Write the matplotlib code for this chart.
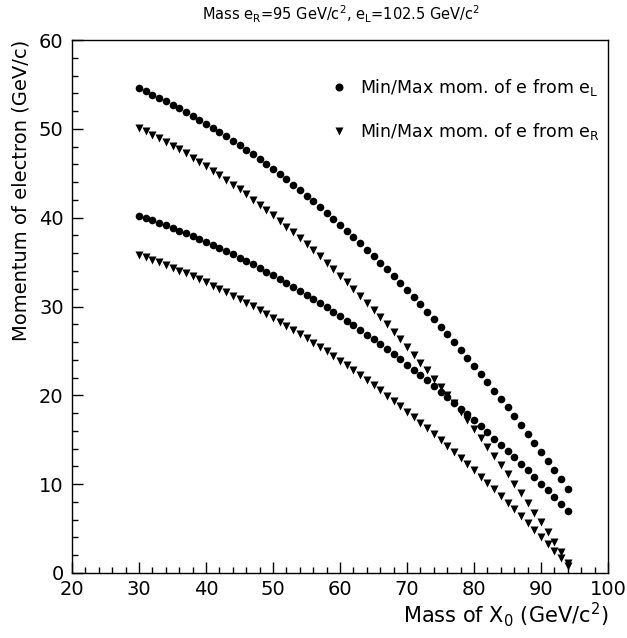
import matplotlib
matplotlib.use("Agg")
import matplotlib.pyplot as plt
from matplotlib.ticker import MultipleLocator

plt.rcParams['font.family'] = ['DejaVu Sans']
plt.rcParams['mathtext.default'] = 'regular'

# Mass of X0 (GeV/c^2)
mass_x0 = list(range(30, 95))

# Min/Max momentum of e from e_L (circles)
eL_max = [54.56, 54.21, 53.85, 53.49, 53.10, 52.71, 52.31, 51.90, 51.47, 51.03,
          50.58, 50.12, 49.65, 49.17, 48.67, 48.17, 47.65, 47.12, 46.58, 46.03,
          45.47, 44.90, 44.31, 43.72, 43.11, 42.49, 41.86, 41.22, 40.56, 39.90,
          39.22, 38.54, 37.84, 37.13, 36.41, 35.67, 34.93, 34.18, 33.41, 32.63,
          31.84, 31.04, 30.23, 29.40, 28.57, 27.72, 26.87, 26.00, 25.12, 24.22,
          23.32, 22.41, 21.48, 20.54, 19.60, 18.64, 17.66, 16.68, 15.69, 14.68,
          13.67, 12.64, 11.60, 10.55, 9.49]
eL_min = [40.21, 39.95, 39.69, 39.41, 39.13, 38.85, 38.55, 38.24, 37.93, 37.61,
          37.28, 36.94, 36.59, 36.23, 35.87, 35.50, 35.12, 34.73, 34.33, 33.92,
          33.51, 33.09, 32.66, 32.22, 31.77, 31.31, 30.85, 30.37, 29.89, 29.40,
          28.91, 28.40, 27.88, 27.36, 26.83, 26.29, 25.74, 25.19, 24.62, 24.05,
          23.46, 22.87, 22.28, 21.67, 21.05, 20.43, 19.80, 19.16, 18.51, 17.85,
          17.19, 16.51, 15.83, 15.14, 14.44, 13.73, 13.02, 12.29, 11.56, 10.82,
          10.07, 9.31, 8.55, 7.77, 6.99]

# Min/Max momentum of e from e_R (triangles)
eR_max = [50.12, 49.74, 49.35, 48.95, 48.54, 48.11, 47.68, 47.23, 46.76, 46.29,
          45.80, 45.30, 44.79, 44.26, 43.73, 43.18, 42.62, 42.04, 41.46, 40.86,
          40.25, 39.63, 38.99, 38.34, 37.68, 37.01, 36.33, 35.63, 34.92, 34.20,
          33.46, 32.72, 31.96, 31.19, 30.40, 29.61, 28.80, 27.98, 27.15, 26.30,
          25.45, 24.58, 23.69, 22.80, 21.89, 20.97, 20.04, 19.10, 18.14, 17.17,
          16.19, 15.20, 14.19, 13.18, 12.15, 11.10, 10.05, 8.98, 7.90, 6.81,
          5.71, 4.59, 3.46, 2.32, 1.17]
eR_min = [35.79, 35.52, 35.25, 34.96, 34.67, 34.36, 34.05, 33.73, 33.40, 33.06,
          32.71, 32.35, 31.99, 31.61, 31.23, 30.84, 30.44, 30.03, 29.61, 29.18,
          28.75, 28.30, 27.85, 27.38, 26.91, 26.43, 25.94, 25.45, 24.94, 24.42,
          23.90, 23.37, 22.82, 22.27, 21.71, 21.15, 20.57, 19.98, 19.39, 18.78,
          18.17, 17.55, 16.92, 16.28, 15.63, 14.98, 14.31, 13.64, 12.96, 12.26,
          11.56, 10.85, 10.14, 9.41, 8.67, 7.93, 7.18, 6.41, 5.64, 4.86,
          4.08, 3.28, 2.47, 1.66, 0.83]

title = r'Mass e$_{R}$=95 GeV/c$^{2}$, e$_{L}$=102.5 GeV/c$^{2}$'
xlabel = r'Mass of X$_{0}$ (GeV/c$^{2}$)'
ylabel = 'Momentum of electron (GeV/c)'
label_L = r'Min/Max mom. of e from e$_{L}$'
label_R = r'Min/Max mom. of e from e$_{R}$'

W, H = 627, 638
fig = plt.figure(figsize=(W / 100, H / 100), dpi=100)
ax = fig.add_axes([72 / W, 1 - 573 / H, (608 - 72) / W, (573 - 40) / H])

ms = 5.5
ax.plot(mass_x0, eL_max, 'o', color='black', ms=ms, mec='none', label=label_L)
ax.plot(mass_x0, eL_min, 'o', color='black', ms=ms, mec='none')
ax.plot(mass_x0, eR_max, 'v', color='black', ms=ms, mec='none', label=label_R)
ax.plot(mass_x0, eR_min, 'v', color='black', ms=ms, mec='none')

ax.set_xlim(20, 100)
ax.set_ylim(0, 60)
ax.xaxis.set_major_locator(MultipleLocator(10))
ax.xaxis.set_minor_locator(MultipleLocator(2))
ax.yaxis.set_major_locator(MultipleLocator(10))
ax.yaxis.set_minor_locator(MultipleLocator(2))
ax.tick_params(which='both', direction='in', top=False, right=False,
               labelsize=14, width=1, color='black')
ax.tick_params(axis='x', which='major', length=8, pad=5)
ax.tick_params(axis='y', which='major', length=8, pad=6)
ax.tick_params(which='minor', length=4.5)
for s in ax.spines.values():
    s.set_linewidth(1.0)

ax.set_xlabel(xlabel, fontsize=15, ha='right', x=1.0, labelpad=1)
ax.set_ylabel(ylabel, fontsize=14, ha='right', y=1.0, labelpad=6)
fig.text(0.544, 1 - 14 / H, title, ha='center', va='center', fontsize=10.5)

ax.legend(loc='upper left', bbox_to_anchor=(330 / W, 1 - 77 / H),
          bbox_transform=fig.transFigure, frameon=False, fontsize=12.5,
          numpoints=1, handlelength=1.0, handletextpad=0.7,
          labelspacing=1.35, borderpad=0, borderaxespad=0, markerscale=1.05)

fig.savefig('out.png', dpi=100)
